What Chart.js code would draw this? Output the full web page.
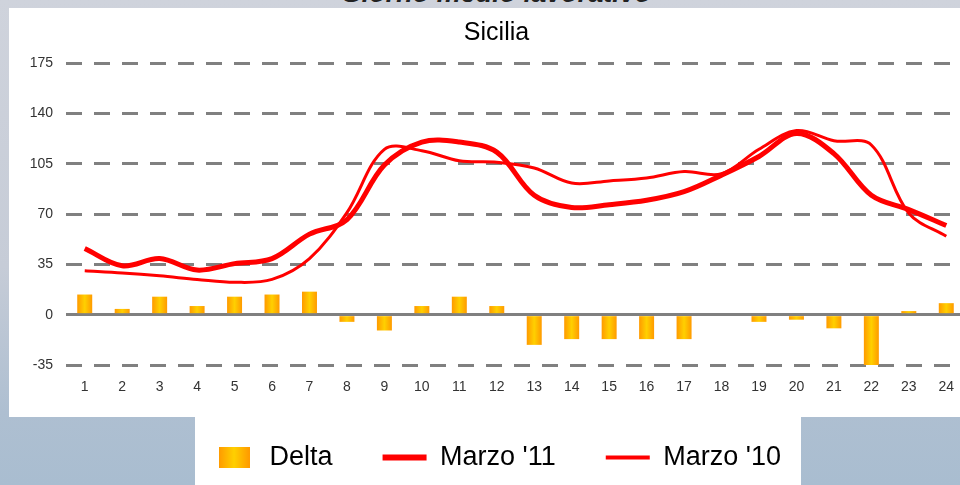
<!DOCTYPE html>
<html>
<head>
<meta charset="utf-8">
<script src="https://cdn.jsdelivr.net/npm/chart.js@4.4.1/dist/chart.umd.min.js"></script>
<style>
  html, body { margin: 0; padding: 0; }
  body {
    width: 960px; height: 485px; overflow: hidden; position: relative;
    background: linear-gradient(to bottom, #cfd3dc 0%, #c6ccd7 55%, #aebfd1 85%, #a9bdd0 100%);
  }
  #top-title {
    position: absolute; left: 0; width: 992px; top: -20px;
    text-align: center; font: italic bold 27px "Liberation Sans", Arial, sans-serif;
    line-height: 27px; color: #222; white-space: nowrap;
  }
  #c { position: absolute; left: 0; top: 0; }
</style>
</head>
<body>
<div id="top-title">Giorno medio lavorativo</div>
<canvas id="c" width="1000" height="485"></canvas>
<script>
// ---- data ----
const hours = ['1','2','3','4','5','6','7','8','9','10','11','12','13','14','15','16','17','18','19','20','21','22','23','24'];
const marzo11 = [46, 34, 39, 31, 35.5, 39, 56, 66, 104, 120, 120, 113, 83, 74.5, 76.5, 79.5, 85.5, 97, 110, 126, 112, 83, 73, 62];
const marzo10 = [30.5, 29, 27, 24.5, 22.5, 24.5, 39, 71, 115, 114, 107, 106, 102, 91.5, 93, 95, 99.5, 98, 115, 128, 121, 118, 70.5, 54.5];
const delta = [14, 4, 12.5, 6, 12.5, 14, 16, -5, -11, 6, 12.5, 6, -21, -17, -17, -17, -17, 0, -5, -3.5, -9.5, -35, 2.5, 8];
const seriesNames = ['Delta', "Marzo '11", "Marzo '10"];
const chartTitle = 'Sicilia';
const yMin = -35, yMax = 175, yStep = 35;

const FONT = '"Liberation Sans", Arial, sans-serif';

// legend swatch for the bar series
const swatch = document.createElement('canvas');
swatch.width = 31; swatch.height = 21;
(function () {
  const g = swatch.getContext('2d');
  const gr = g.createLinearGradient(0, 0, 31, 0);
  gr.addColorStop(0, '#FF9A00'); gr.addColorStop(0.5, '#FFD000'); gr.addColorStop(1, '#FF9A00');
  g.fillStyle = gr; g.fillRect(0, 0, 31, 21);
})();

const backdrop = {
  id: 'backdrop',
  beforeDraw(chart) {
    const ctx = chart.ctx;
    ctx.save();
    ctx.fillStyle = '#ffffff';
    ctx.fillRect(9, 8, 991, 409);
    ctx.fillRect(195, 417, 606, 68);
    ctx.restore();
  }
};

function barFill(c) {
  const chart = c.chart;
  const xs = chart.scales && chart.scales.x;
  if (!xs || c.type !== 'data') return '#FFC000';
  const cx = xs.getPixelForValue(c.dataIndex);
  const w = xs.width / hours.length * 0.4;
  if (!isFinite(cx) || !isFinite(w) || w <= 0) return '#FFC000';
  const g = chart.ctx.createLinearGradient(cx - w / 2, 0, cx + w / 2, 0);
  g.addColorStop(0, '#FF9A00');
  g.addColorStop(0.5, '#FFD000');
  g.addColorStop(1, '#FF9A00');
  return g;
}

new Chart(document.getElementById('c'), {
  data: {
    labels: hours,
    datasets: [
      { type: 'bar', label: seriesNames[0], data: delta, backgroundColor: barFill,
        borderWidth: 0, barPercentage: 0.4, categoryPercentage: 1 },
      { type: 'line', label: seriesNames[1], data: marzo11, borderColor: '#FF0000', backgroundColor: '#FF0000',
        borderWidth: 5, pointRadius: 0, tension: 0.35, fill: false },
      { type: 'line', label: seriesNames[2], data: marzo10, borderColor: '#FF0000', backgroundColor: '#FF0000',
        borderWidth: 3, pointRadius: 0, tension: 0.35, fill: false }
    ]
  },
  options: {
    responsive: false,
    animation: false,
    devicePixelRatio: 1,
    layout: { padding: { left: 28, right: 35, top: 0, bottom: 4 } },
    plugins: {
      tooltip: { enabled: false },
      title: {
        display: true, text: chartTitle, color: '#000',
        font: { family: FONT, size: 25, weight: 'normal' },
        padding: { top: 18, bottom: 15 }
      },
      legend: {
        position: 'bottom',
        labels: {
          color: '#000',
          font: { family: FONT, size: 27 },
          usePointStyle: true,
          pointStyleWidth: 44,
          padding: 50,
          generateLabels(chart) {
            const items = Chart.defaults.plugins.legend.labels.generateLabels(chart);
            items.sort((a, b) => a.datasetIndex - b.datasetIndex);
            items.forEach(it => {
              if (it.datasetIndex === 0) {
                it.pointStyle = swatch; it.lineWidth = 0;
              } else {
                it.pointStyle = 'line';
                it.strokeStyle = '#FF0000';
                it.fillStyle = '#FF0000';
                it.lineWidth = it.datasetIndex === 1 ? 6 : 4;
              }
            });
            return items;
          }
        }
      }
    },
    scales: {
      x: {
        grid: { display: false, drawTicks: false },
        border: { display: false },
        ticks: { color: '#333', font: { family: FONT, size: 14 }, padding: 14, maxRotation: 0, autoSkip: false },
        afterFit(s) { s.height = 29; }
      },
      y: {
        min: yMin, max: yMax,
        grid: { color: '#808080', lineWidth: 3, drawTicks: false },
        border: { display: false, dash: (c) => (c.tick && c.tick.value === 0) ? [] : [16, 12] },
        ticks: { stepSize: yStep, color: '#333', font: { family: FONT, size: 14 }, padding: 13 },
        afterFit(s) { s.width = 38; }
      }
    }
  },
  plugins: [backdrop]
});
</script>
</body>
</html>
